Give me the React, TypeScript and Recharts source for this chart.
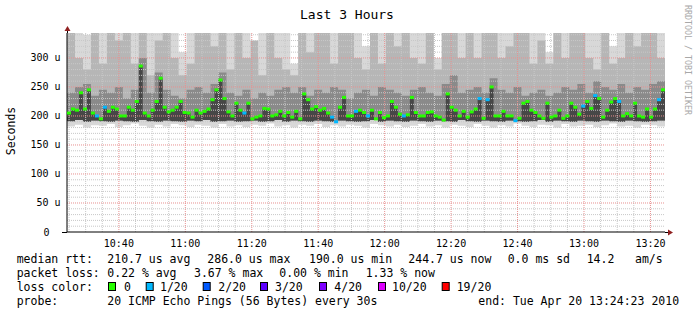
import React from "react";
import { ComposedChart, Area, Scatter, XAxis, YAxis, ReferenceLine } from "recharts";

const FONT = "'DejaVu Sans Mono', monospace";

// time axis in minutes after 10:00, graph spans 10:24:23 .. 13:24:23
const startMin = 24 + 23 / 60;
const endMin = startMin + 180;
const stepMin = 1.2;

// median rtt per step (us)
const medianRtt = [
  205, 212, 210, 240, 212, 245, 205, 200, 195, 215, 208, 215, 212, 200, 200, 215, 210, 225, 286, 205, 200, 210, 225, 265, 215,
  207, 210, 215, 225, 206, 205, 198, 210, 205, 208, 212, 228, 245, 262, 230, 207, 200, 222, 210, 205, 222, 195, 198, 200, 213,
  212, 200, 202, 208, 200, 206, 198, 208, 195, 238, 228, 212, 216, 210, 213, 205, 198, 190, 215, 232, 200, 200, 208, 210, 206,
  200, 210, 195, 206, 197, 200, 225, 215, 203, 200, 202, 232, 206, 200, 200, 206, 207, 200, 198, 193, 238, 215, 210, 200, 208,
  198, 207, 212, 230, 196, 228, 250, 200, 200, 208, 200, 200, 192, 196, 222, 225, 210, 206, 200, 196, 222, 198, 200, 210, 196,
  200, 222, 215, 203, 217, 225, 213, 235, 230, 198, 210, 224, 230, 225, 200, 204, 200, 222, 200, 198, 212, 198, 212, 228, 245,
];

// lost pings (of 20) per step
const lossCount = [
  0, 0, 0, 0, 0, 0, 0, 1, 0, 1, 0, 0, 0, 0, 0, 0, 0, 0, 0, 0, 0, 0, 0, 0, 0,
  0, 0, 0, 0, 0, 0, 0, 0, 0, 0, 0, 0, 0, 0, 0, 0, 0, 0, 0, 1, 0, 0, 0, 0, 0,
  0, 0, 0, 0, 0, 0, 0, 0, 0, 0, 0, 0, 0, 0, 0, 0, 1, 1, 0, 0, 0, 0, 1, 0, 0,
  1, 0, 0, 0, 0, 0, 0, 0, 0, 1, 0, 0, 0, 0, 0, 0, 0, 0, 0, 0, 0, 0, 0, 0, 0,
  0, 0, 0, 1, 0, 1, 0, 0, 0, 0, 0, 0, 1, 0, 0, 0, 0, 0, 0, 0, 0, 0, 0, 0, 0,
  0, 0, 0, 0, 1, 0, 0, 1, 0, 0, 0, 0, 0, 1, 0, 0, 0, 0, 0, 0, 0, 0, 0, 1, 0,
];

// smoke, one value per 2 steps
const smokeLow = [182, 185, 180, 184, 183, 186, 181, 184, 187, 183, 180, 185, 182, 186, 184, 181, 185, 183, 180, 186, 182, 184, 181, 185, 183, 187, 182, 184, 180, 185, 183, 186, 181, 184, 182, 185, 183, 180, 186, 184, 182, 185, 181, 183, 186, 182, 184, 180, 185, 183, 181, 186, 183, 180, 184, 182, 187, 183, 181, 185, 184, 180, 186, 182, 183, 185, 181, 184, 187, 182, 183, 180, 185, 184, 182];
const smokeCore = [191, 193, 190, 192, 191, 190, 192, 191, 190, 193, 191, 190, 192, 191, 190, 192, 191, 193, 190, 191, 192, 190, 191, 192, 190, 191, 193, 190, 192, 191, 190, 192, 191, 190, 192, 191, 190, 191, 193, 190, 192, 191, 190, 192, 191, 190, 192, 191, 190, 193, 191, 190, 192, 191, 190, 192, 191, 190, 191, 193, 190, 192, 191, 190, 192, 191, 190, 192, 191, 190, 192, 191, 190, 191, 192];
const smokeDark = [240, 250, 255, 235, 245, 240, 250, 230, 245, 300, 240, 275, 245, 235, 230, 245, 250, 240, 255, 275, 240, 235, 245, 230, 240, 235, 245, 250, 240, 250, 235, 245, 240, 250, 245, 230, 240, 245, 235, 250, 245, 240, 235, 245, 250, 240, 235, 255, 270, 240, 245, 250, 240, 265, 245, 240, 250, 235, 240, 245, 235, 240, 250, 245, 255, 240, 260, 250, 245, 255, 240, 250, 245, 255, 260];
const smokeMid = [400, 300, 280, 400, 290, 400, 330, 400, 290, 400, 270, 330, 400, 300, 270, 290, 400, 400, 320, 400, 280, 400, 300, 330, 270, 400, 300, 280, 270, 400, 310, 400, 400, 290, 350, 400, 300, 280, 400, 290, 400, 320, 400, 300, 290, 400, 280, 400, 400, 300, 400, 300, 380, 400, 300, 320, 400, 400, 290, 330, 290, 400, 300, 380, 400, 300, 280, 400, 290, 300, 400, 320, 400, 350, 300];
const smokeMax = [420, 420, 340, 420, 420, 420, 420, 420, 420, 420, 420, 420, 420, 420, 310, 420, 420, 420, 420, 420, 420, 420, 420, 300, 420, 420, 420, 420, 290, 420, 420, 420, 420, 420, 420, 420, 420, 320, 420, 420, 420, 420, 420, 420, 420, 420, 300, 420, 420, 420, 420, 420, 420, 420, 420, 420, 420, 420, 420, 420, 310, 420, 420, 420, 420, 420, 420, 420, 320, 420, 420, 420, 420, 420, 420];

const xTicks = [40, 60, 80, 100, 120, 140, 160, 180, 200];
const xLabels = ["10:40", "11:00", "11:20", "11:40", "12:00", "12:20", "12:40", "13:00", "13:20"];
const yTicks = [0, 50, 100, 150, 200, 250, 300];

const lossLevels = [0, 1, 2, 3, 4, 10, 19];
const lossLabels = ["0", "1/20", "2/20", "3/20", "4/20", "10/20", "19/20"];
const lossColors = ["#26ff00", "#00b8ff", "#0059ff", "#5e00ff", "#7e00ff", "#dd00ff", "#ff0000"];

const colorFor = (loss: number) => {
  let c = lossColors[0];
  lossLevels.forEach((l, i) => {
    if (loss >= l) c = lossColors[i];
  });
  return c;
};

const rows: any[] = medianRtt.map((m, i) => {
  const c = Math.floor(i / 2);
  return {
    x: startMin + i * stepMin,
    light: [smokeLow[c], smokeMax[c]],
    mid: [smokeCore[c], smokeMid[c]],
    dark: [smokeCore[c], smokeDark[c]],
    core: [smokeCore[c], m],
  };
});
rows.push({ ...rows[rows.length - 1], x: endMin });

const medianPts = medianRtt.map((m, i) => ({ x: startMin + (i + 0.5) * stepMin, m, loss: lossCount[i] }));

const minorY: number[] = [];
for (let v = 10; v <= 340; v += 10) if (v % 50 !== 0) minorY.push(v);
const majorY = [50, 100, 150, 200, 250, 300];
const minorX: number[] = [];
for (let v = 25; v <= 200; v += 5) if (v % 20 !== 0) minorX.push(v);

const YTick = (props: any) => {
  const { y, payload } = props;
  const v = payload.value;
  return (
    <text x={v === 0 ? 49.5 : 60.5} y={y} dy={3.5} textAnchor="end" fontFamily={FONT} fontSize={10} fill="#000">
      {v === 0 ? "0" : `${v} u`}
    </text>
  );
};

const MedianMark = (props: any) => {
  const { cx, cy, payload } = props;
  return <rect x={cx - 2} y={cy - 1.5} width={4} height={3} fill={colorFor(payload.loss)} />;
};

const legendTxt = (x: number, y: number, s: string) => (
  <text key={`${x}-${y}`} x={x} y={y} fontFamily={FONT} fontSize={11.5} fill="#000">
    {s}
  </text>
);

const squareX = [108, 145.7, 202.7, 260, 319, 378, 441.7];
const squareLabelX = [124, 160, 218.3, 275, 334.3, 392, 456.7];

export default function App() {
  return (
    <div style={{ position: "absolute", left: 0, top: 0, width: 697, height: 316, background: "#fff" }}>
      <ComposedChart
        width={697}
        height={316}
        data={rows}
        margin={{ top: 33, right: 32, bottom: 64, left: 0 }}
      >
        <XAxis
          type="number"
          dataKey="x"
          domain={[startMin, endMin]}
          allowDataOverflow
          ticks={xTicks}
          tickFormatter={(v: number) => xLabels[xTicks.indexOf(v)]}
          tick={{ fontFamily: FONT, fontSize: 10, fill: "#000" }}
          tickLine={false}
          axisLine={{ stroke: "#000" }}
          height={20}
        />
        <YAxis
          type="number"
          domain={[0, 343]}
          allowDataOverflow
          ticks={yTicks}
          tick={<YTick />}
          tickLine={false}
          axisLine={{ stroke: "#000" }}
          width={67}
        />
        <Area type="stepAfter" dataKey="light" fill="#d8d8d8" fillOpacity={1} stroke="none" isAnimationActive={false} />
        <Area type="stepAfter" dataKey="mid" fill="#b6b6b6" fillOpacity={1} stroke="none" isAnimationActive={false} />
        <Area type="stepAfter" dataKey="dark" fill="#8a8a8a" fillOpacity={1} stroke="none" isAnimationActive={false} />
        <Area type="stepAfter" dataKey="core" fill="#474747" fillOpacity={1} stroke="none" isAnimationActive={false} />
        {minorY.map((v) => (
          <ReferenceLine key={`my${v}`} y={v} stroke="#c8c8c8" strokeDasharray="1 1" />
        ))}
        {minorX.map((v) => (
          <ReferenceLine key={`mx${v}`} x={v} stroke="#c8c8c8" strokeDasharray="1 1" />
        ))}
        {majorY.map((v) => (
          <ReferenceLine key={`My${v}`} y={v} stroke="#e89090" strokeDasharray="1 1" />
        ))}
        {xTicks.map((v) => (
          <ReferenceLine key={`Mx${v}`} x={v} stroke="#e89090" strokeDasharray="1 1" />
        ))}
        <Scatter data={medianPts} dataKey="m" shape={<MedianMark />} isAnimationActive={false} />
      </ComposedChart>
      <svg
        width={697}
        height={316}
        style={{ position: "absolute", left: 0, top: 0, pointerEvents: "none" }}
      >
        <text x={347} y={18.5} textAnchor="middle" fontFamily={FONT} fontSize={13} fill="#000">
          Last 3 Hours
        </text>
        <text
          x={15}
          y={131}
          textAnchor="middle"
          fontFamily={FONT}
          fontSize={11.5}
          fill="#000"
          transform="rotate(-90 15 131)"
        >
          Seconds
        </text>
        <text x={684.5} y={5} fontFamily={FONT} fontSize={8.3} fill="#a8a8a8" transform="rotate(90 684.5 5)">
          RRDTOOL / TOBI OETIKER
        </text>
        <line x1={67.5} y1={30} x2={67.5} y2={33} stroke="#000" />
        <polygon points="64.5,31 70.5,31 67.5,26" fill="#902020" />
        <line x1={62} y1={232.5} x2={67} y2={232.5} stroke="#000" />
        <line x1={665} y1={232.5} x2={669} y2={232.5} stroke="#000" />
        <polygon points="668,229.5 668,235.5 673,232.5" fill="#902020" />

        {legendTxt(16.7, 263, "median rtt:")}
        {legendTxt(107.3, 263, "210.7 us avg")}
        {legendTxt(207.3, 263, "286.0 us max")}
        {legendTxt(309, 263, "190.0 us min")}
        {legendTxt(408.3, 263, "244.7 us now")}
        {legendTxt(507.7, 263, "0.0 ms sd")}
        {legendTxt(586.7, 263, "14.2")}
        {legendTxt(635, 263, "am/s")}

        {legendTxt(16.7, 277, "packet loss:")}
        {legendTxt(107.3, 277, "0.22 % avg")}
        {legendTxt(194, 277, "3.67 % max")}
        {legendTxt(279.3, 277, "0.00 % min")}
        {legendTxt(365.7, 277, "1.33 % now")}

        {legendTxt(16.7, 291, "loss color:")}
        {lossLabels.map((l, i) => (
          <g key={l}>
            <rect x={squareX[i] + 0.5} y={282.5} width={7} height={8} fill={lossColors[i]} stroke="#000" />
            {legendTxt(squareLabelX[i], 291, l)}
          </g>
        ))}

        {legendTxt(16.7, 305, "probe:")}
        {legendTxt(107.3, 305, "20 ICMP Echo Pings (56 Bytes) every 30s")}
        {legendTxt(478.3, 305, "end: Tue Apr 20 13:24:23 2010")}
      </svg>
    </div>
  );
}
